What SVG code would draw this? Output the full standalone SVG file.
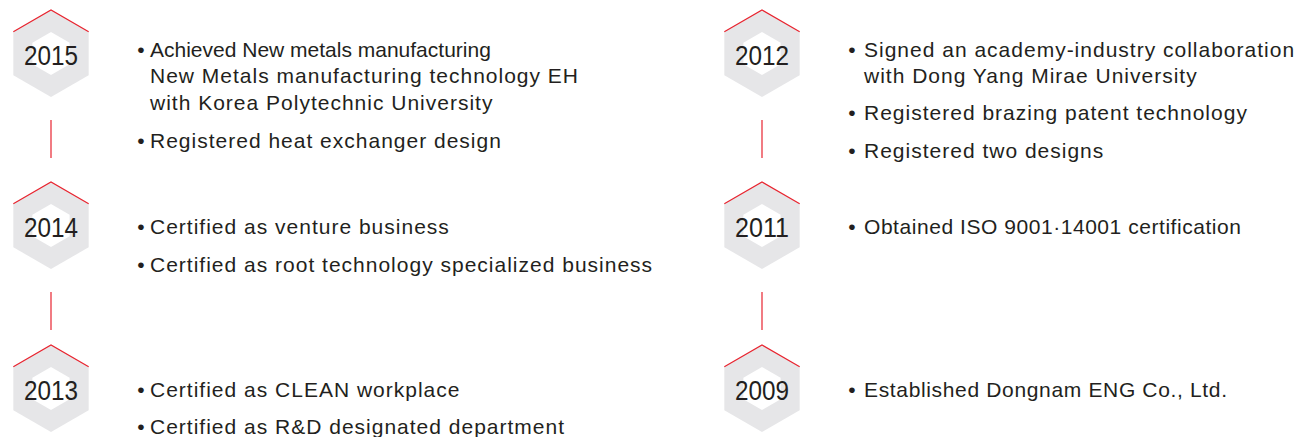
<svg xmlns="http://www.w3.org/2000/svg" xmlns:xlink="http://www.w3.org/1999/xlink" width="1300" height="437" viewBox="0 0 1300 437">
  <style>
    .year { font-family: "Liberation Sans", Arial, sans-serif; font-size: 28px; fill: #231f20; text-anchor: middle; }
    .item { font-family: "Liberation Sans", Arial, sans-serif; font-size: 21px; fill: #231f20; letter-spacing: 1px; }
    .tight { letter-spacing: 0px; }
    .bullet { font-family: "Liberation Sans", Arial, sans-serif; font-size: 21px; fill: #231f20; text-anchor: middle; }
    .conn { stroke: #e8242f; stroke-width: 1.2; fill: none; }
  </style>
  <defs>
    <g id="hex">
      <polygon points="0,-43.5 37.67,-21.75 37.67,21.75 0,43.5 -37.67,21.75 -37.67,-21.75" fill="#e6e6e8"/>
      <polygon points="0,-21.5 18.62,-10.75 18.62,10.75 0,21.5 -18.62,10.75 -18.62,-10.75" fill="#ffffff"/>
      <polyline points="-37.67,-21.75 0,-43.5 37.67,-21.75" fill="none" stroke="#e8242f" stroke-width="1.2"/>
    </g>
  </defs>
  <rect width="1300" height="437" fill="#ffffff"/>

  <g id="connectors">
    <line class="conn" x1="51" y1="120" x2="51" y2="158"/>
    <line class="conn" x1="51" y1="292" x2="51" y2="330"/>
    <line class="conn" x1="762" y1="120" x2="762" y2="158"/>
    <line class="conn" x1="762" y1="292" x2="762" y2="330"/>
  </g>

  <g id="node-2015">
    <use xlink:href="#hex" href="#hex" transform="translate(51,53.5)"/>
    <text class="year" x="51" y="65" textLength="54" lengthAdjust="spacingAndGlyphs">2015</text>
    <text class="bullet" x="141" y="57">•</text>
    <text class="item tight" x="150" y="57">Achieved New metals manufacturing</text>
    <text class="item" x="150" y="83">New Metals manufacturing technology EH</text>
    <text class="item" x="150" y="110">with Korea Polytechnic University</text>
    <text class="bullet" x="141" y="148">•</text>
    <text class="item" x="150" y="148">Registered heat exchanger design</text>
  </g>

  <g id="node-2014">
    <use xlink:href="#hex" href="#hex" transform="translate(51,225.5)"/>
    <text class="year" x="51" y="237" textLength="54" lengthAdjust="spacingAndGlyphs">2014</text>
    <text class="bullet" x="141" y="234">•</text>
    <text class="item" x="150" y="234">Certified as venture business</text>
    <text class="bullet" x="141" y="272">•</text>
    <text class="item" x="150" y="272">Certified as root technology specialized business</text>
  </g>

  <g id="node-2013">
    <use xlink:href="#hex" href="#hex" transform="translate(51,388.5)"/>
    <text class="year" x="51" y="400" textLength="54" lengthAdjust="spacingAndGlyphs">2013</text>
    <text class="bullet" x="141" y="397">•</text>
    <text class="item" x="150" y="397">Certified as CLEAN workplace</text>
    <text class="bullet" x="141" y="434">•</text>
    <text class="item" x="150" y="434">Certified as R&amp;D designated department</text>
  </g>

  <g id="node-2012">
    <use xlink:href="#hex" href="#hex" transform="translate(762,53.5)"/>
    <text class="year" x="762" y="65" textLength="54" lengthAdjust="spacingAndGlyphs">2012</text>
    <text class="bullet" x="852" y="57">•</text>
    <text class="item" x="864" y="57">Signed an academy-industry collaboration</text>
    <text class="item" x="864" y="83">with Dong Yang Mirae University</text>
    <text class="bullet" x="852" y="120">•</text>
    <text class="item" x="864" y="120">Registered brazing patent technology</text>
    <text class="bullet" x="852" y="158">•</text>
    <text class="item" x="864" y="158">Registered two designs</text>
  </g>

  <g id="node-2011">
    <use xlink:href="#hex" href="#hex" transform="translate(762,225.5)"/>
    <text class="year" x="762" y="237" textLength="54" lengthAdjust="spacingAndGlyphs">2011</text>
    <text class="bullet" x="852" y="234">•</text>
    <text class="item" x="864" y="234" textLength="378" lengthAdjust="spacing">Obtained ISO 9001·14001 certification</text>
  </g>

  <g id="node-2009">
    <use xlink:href="#hex" href="#hex" transform="translate(762,388.5)"/>
    <text class="year" x="762" y="400" textLength="54" lengthAdjust="spacingAndGlyphs">2009</text>
    <text class="bullet" x="852" y="397">•</text>
    <text class="item" x="864" y="397" textLength="364" lengthAdjust="spacing">Established Dongnam ENG Co., Ltd.</text>
  </g>
</svg>
